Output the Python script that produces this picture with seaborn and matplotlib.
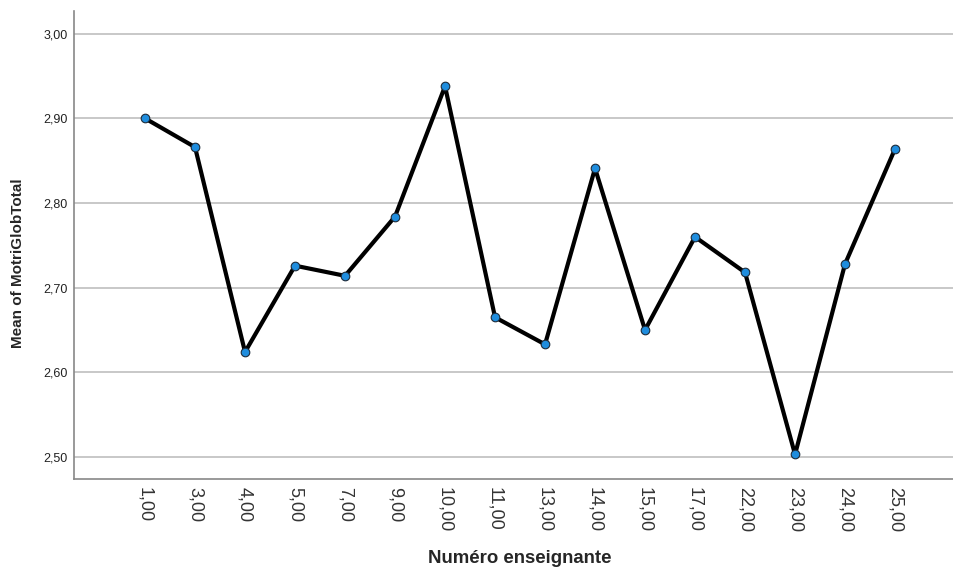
import seaborn as sns
import matplotlib.pyplot as plt
import pandas as pd

# Values
enseignants = ['1,00', '3,00', '4,00', '5,00', '7,00', '9,00', '10,00', '11,00',
               '13,00', '14,00', '15,00', '17,00', '22,00', '23,00', '24,00', '25,00']
moyennes = [2.900, 2.866, 2.624, 2.726, 2.714, 2.784, 2.938, 2.665,
            2.633, 2.841, 2.650, 2.760, 2.718, 2.503, 2.728, 2.864]
y_ticks = [2.50, 2.60, 2.70, 2.80, 2.90, 3.00]
y_tick_labels = ['2,50', '2,60', '2,70', '2,80', '2,90', '3,00']

df = pd.DataFrame({'Numéro enseignante': enseignants, 'Mean of MotriGlobTotal': moyennes})
df['pos'] = range(len(df))

sns.set_style("white")
plt.rcParams['font.family'] = ['Liberation Sans', 'DejaVu Sans']

fig = plt.figure(figsize=(9.54, 5.72), dpi=100)
ax = fig.add_axes([0.0776, 0.1626, 0.9214, 0.8184])

# grid first so the line sits on top
for yv in y_ticks:
    ax.axhline(yv, color='#c8c8c8', linewidth=1.4, zorder=0)

sns.lineplot(data=df, x='pos', y='Mean of MotriGlobTotal', ax=ax,
             color='black', linewidth=3, marker='o', markersize=6.2,
             markerfacecolor='#1f8dde', markeredgecolor='#1c2b3a',
             markeredgewidth=0.8, zorder=3)

ax.set_xlim(-1.42, 16.16)
ax.set_ylim(2.474, 3.027)
ax.set_xticks(df['pos'])
ax.set_xticklabels(enseignants, rotation=-90, fontsize=13, color='#333333')
ax.set_yticks(y_ticks)
ax.set_yticklabels(y_tick_labels, fontsize=9, color='#222222')
ax.tick_params(axis='x', length=0, pad=6)
ax.tick_params(axis='y', length=0, pad=4.3)

ax.set_xlabel('Numéro enseignante', fontsize=13.4, fontweight='bold', va='center')
ax.xaxis.set_label_coords(0.507, -0.169)
ax.set_ylabel('Mean of MotriGlobTotal', fontsize=11, fontweight='bold', va='center')
ax.yaxis.set_label_coords(-0.0643, 0.46)

for side in ['top', 'right']:
    ax.spines[side].set_visible(False)
for side in ['left', 'bottom']:
    ax.spines[side].set_color('#888888')
    ax.spines[side].set_linewidth(1.2)

fig.savefig('out.png', dpi=100)
